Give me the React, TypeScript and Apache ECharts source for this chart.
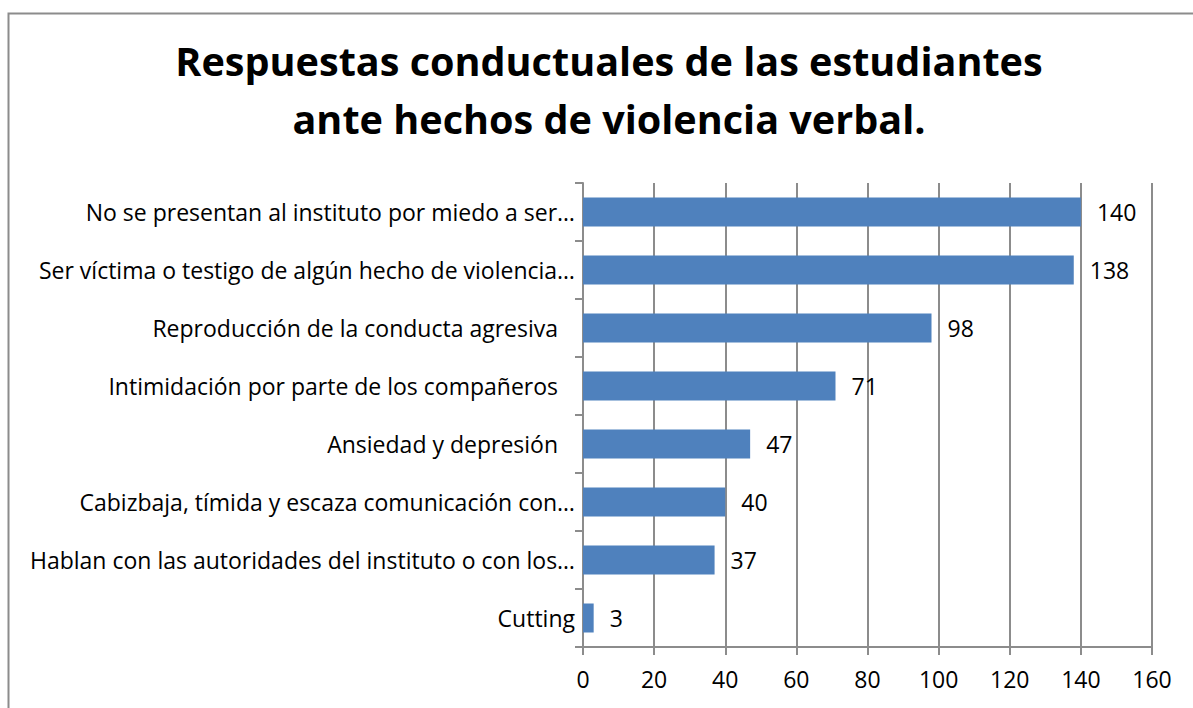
import React, { useEffect, useRef } from "react";
import * as echarts from "echarts";

const categories = [
  "No se presentan al instituto por miedo a ser…",
  "Ser víctima o testigo de algún hecho de violencia…",
  "Reproducción de la conducta agresiva ",
  "Intimidación por parte de los compañeros ",
  "Ansiedad y depresión ",
  "Cabizbaja, tímida y escaza comunicación con…",
  "Hablan con las autoridades del instituto o con los…",
  "Cutting",
];
const values = [140, 138, 98, 71, 47, 40, 37, 3];
const titleLines = [
  "Respuestas conductuales de las estudiantes",
  "ante hechos de violencia verbal.",
];
const FONT = "'Open Sans', sans-serif";

export default function App() {
  const ref = useRef<HTMLDivElement>(null);
  useEffect(() => {
    document.body.style.margin = "0";
    const chart = echarts.init(ref.current!, null, { renderer: "svg" });
    chart.setOption({
      animation: false,
      backgroundColor: "#ffffff",
      title: {
        text: titleLines.join("\n"),
        left: 604,
        textAlign: "center",
        top: 27,
        textStyle: {
          fontFamily: FONT,
          fontWeight: "bold",
          fontSize: 39.6,
          lineHeight: 58,
          color: "#000",
        },
      },
      graphic: [
        {
          type: "rect",
          shape: { x: 8.5, y: 13.5, width: 1200, height: 720 },
          style: { fill: "none", stroke: "#8c8c8c", lineWidth: 2 },
          silent: true,
        },
      ],
      grid: { left: 583, right: 41, top: 183, bottom: 61 },
      xAxis: {
        type: "value",
        min: 0,
        max: 160,
        interval: 20,
        axisLine: { show: true, lineStyle: { color: "#8c8c8c", width: 2 } },
        axisTick: { show: true, length: 8, lineStyle: { color: "#8c8c8c", width: 2 } },
        splitLine: { show: true, lineStyle: { color: "#8c8c8c", width: 2 } },
        axisLabel: { fontFamily: FONT, fontSize: 23, color: "#000", margin: 20 },
      },
      yAxis: {
        type: "category",
        data: categories,
        inverse: true,
        axisLine: { show: true, lineStyle: { color: "#8c8c8c", width: 2 } },
        axisTick: { show: true, length: 8, alignWithLabel: false, lineStyle: { color: "#8c8c8c", width: 2 } },
        axisLabel: {
          fontFamily: FONT,
          fontSize: 23,
          color: "#000",
          margin: 8,
          formatter: (v: string) => (v.endsWith(" ") ? `{p|${v}}` : v),
          rich: {
            p: { fontFamily: FONT, fontSize: 23, color: "#000", padding: [0, 11, 0, 0] },
          },
        },
      },
      series: [
        {
          type: "bar",
          data: values,
          barCategoryGap: "50%",
          itemStyle: { color: "#4F81BD" },
          label: {
            show: true,
            position: "right",
            distance: 16,
            fontFamily: FONT,
            fontSize: 23,
            color: "#000",
          },
        },
      ],
    });
    return () => chart.dispose();
  }, []);
  return <div ref={ref} style={{ width: 1193, height: 708 }} />;
}
